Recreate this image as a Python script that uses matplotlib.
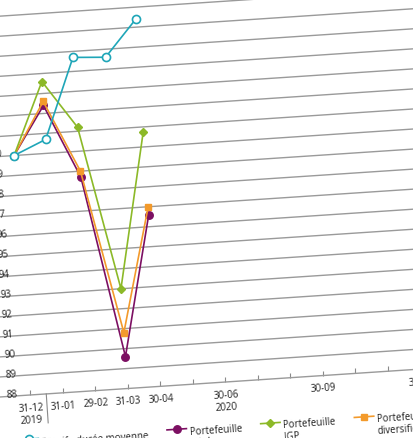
import numpy as np
import matplotlib
matplotlib.use("Agg")
import matplotlib.pyplot as plt
from matplotlib.transforms import Affine2D
from matplotlib.lines import Line2D
from matplotlib.text import Text
from matplotlib.legend_handler import HandlerLine2D

plt.rcParams['font.family'] = ['Open Sans', 'DejaVu Sans']

# ---------------- data ----------------
categories = ["31-12", "31-01", "29-02", "31-03", "30-04", "31-05", "30-06",
              "31-07", "31-08", "30-09", "31-10", "30-11", "31-12"]
tick_labels = ["31-12\n2019", "31-01", "29-02", "31-03", "30-04", "", "30-06\n2020",
               "", "", "30-09", "", "", "31-12"]
passif = [100.0, 100.7, 104.7, 104.6, 106.4]
pf_total = [100.0, 102.4, 98.7, 89.6, 96.6]
pf_igp = [100.0, 103.6, 101.2, 93.0, 100.75]
pf_div = [100.0, 102.6, 99.0, 90.8, 97.0]
y_ticks = list(range(88, 111))

labels = ["Passif - durée moyenne\n ", "Portefeuille\ntotal",
          "Portefeuille\nIGP", "Portefeuille\ndiversifié"]

# ---------------- layout ----------------
W, H = 413, 439
DPI = 100
fig = plt.figure(figsize=(W / DPI, H / DPI), dpi=DPI)
fig.patch.set_facecolor("white")

px_cat = 32.6      # pixels per category
px_unit = 20.0     # pixels per y unit
x0, y0 = 30.0, 43.0  # display position of (cat 0, 88)
xmin, xmax = -1.4, 13.0
ymin, ymax = 88, 110
left = x0 + xmin * px_cat
width = (xmax - xmin) * px_cat
height = (ymax - ymin) * px_unit
ax = fig.add_axes([left / W, y0 / H, width / W, height / H])
ax.set_xlim(xmin, xmax)
ax.set_ylim(ymin, ymax)
ax.patch.set_visible(False)
for s in ax.spines.values():
    s.set_visible(False)

x = np.arange(len(passif))
teal = "#1fa6b8"
purple = "#7c0f62"
green = "#8cb928"
orange = "#f39a2b"
lw = 1.2

ax.plot(x, pf_total, color=purple, lw=lw, marker="o", ms=5.4, mfc=purple, mec=purple, zorder=3,
        label=labels[1])
ax.plot(x, pf_div, color=orange, lw=lw, marker="s", ms=4.3, mfc=orange, mec=orange, zorder=4,
        label=labels[3])
ax.plot(x, pf_igp, color=green, lw=lw, marker="D", ms=4.0, mfc=green, mec=green, zorder=5,
        label=labels[2])
ax.plot(x, passif, color=teal, lw=lw, marker="o", ms=5.8, mfc="white", mec=teal, mew=1.2,
        zorder=6, label=labels[0])

# grid
ax.set_yticks(y_ticks)
ax.set_yticklabels([str(v) for v in y_ticks])
ax.yaxis.grid(True, color="#9a9a9a", lw=1.0)
ax.set_axisbelow(True)
ax.set_xticks(range(len(categories)))
ax.set_xticklabels(tick_labels)
ax.tick_params(axis="x", direction="in", length=3.5, width=0.8, color="#8a8a8a",
               pad=5, labelsize=7, labelcolor="#222222")
ytick_x = 18.0
ax.tick_params(axis="y", length=0, pad=-(ytick_x - left) * 72 / DPI, labelsize=7,
               labelcolor="#222222")
for lab in ax.get_yticklabels():
    lab.set_ha("right")
    lab.set_va("baseline")

# year separator
ax.plot([0.5, 0.5], [0, -29.0 / height], color="#8a8a8a", lw=0.8,
        transform=ax.get_xaxis_transform(), clip_on=False)


class FirstLineHandler(HandlerLine2D):
    def create_artists(self, legend, orig_handle, xdescent, ydescent, width, height,
                       fontsize, trans):
        arts = super().create_artists(legend, orig_handle, xdescent, ydescent, width,
                                      height, fontsize, trans)
        for a in arts:
            a.set_ydata(np.asarray(a.get_ydata(), dtype=float) + 0.68 * fontsize)
        return arts


handles, labs = ax.get_legend_handles_labels()
order = [3, 0, 2, 1]
leg = ax.legend([handles[i] for i in order], [labs[i] for i in order],
                loc="upper left",
                bbox_to_anchor=((x0 - 14 - left) / width, -35.0 / height),
                ncol=4, frameon=False, fontsize=7, handlelength=2.0, handletextpad=0.3,
                columnspacing=1.8, borderaxespad=0, borderpad=0,
                handler_map={Line2D: FirstLineHandler()})
for t in leg.get_texts():
    t.set_color("#222222")
    t.set_linespacing(1.1)

# ---------------- rotate whole chart ----------------
fig.canvas.draw()
theta = 3.8
rot = Affine2D().rotate_deg_around(x0, y0, theta)
for art in fig.findobj(lambda a: isinstance(a, (Line2D, Text))):
    if art.figure is None:
        continue
    art.set_transform(art.get_transform() + rot)
    art.set_clip_on(False)
    if isinstance(art, Text):
        art.set_rotation(art.get_rotation() + theta)
        art.set_rotation_mode("anchor")

fig.savefig("out.png", dpi=DPI, facecolor="white")
